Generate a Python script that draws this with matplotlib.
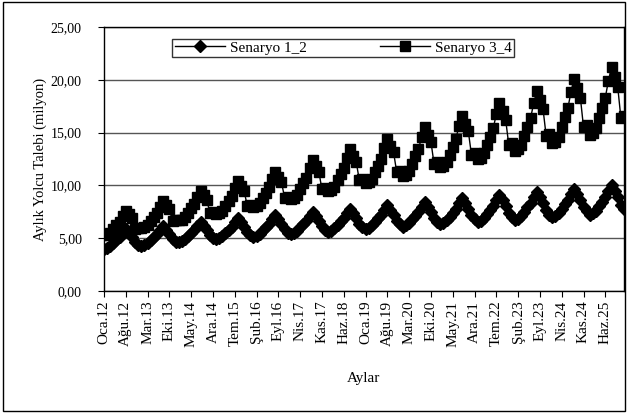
import matplotlib
matplotlib.use('Agg')
import matplotlib.pyplot as plt
from matplotlib.patches import Rectangle
from matplotlib.ticker import FuncFormatter

plt.rcParams['font.family'] = ['Liberation Serif', 'DejaVu Serif']

# Aylar: Oca.12 - Ara.25 (aylik)
aylar = ['Oca', 'Şub', 'Mar', 'Nis', 'May', 'Haz', 'Tem', 'Ağu', 'Eyl', 'Eki', 'Kas', 'Ara']
yillar = list(range(12, 26))

# Senaryo 1_2 (milyon), yil yil
senaryo_12 = [
    4.00, 4.10, 4.29, 4.57, 4.86, 5.14, 5.52, 5.90, 5.52, 5.14, 4.67, 4.38,
    4.30, 4.40, 4.59, 4.87, 5.16, 5.44, 5.82, 6.20, 5.82, 5.44, 4.97, 4.68,
    4.60, 4.70, 4.89, 5.17, 5.46, 5.74, 6.12, 6.50, 6.12, 5.74, 5.27, 4.98,
    4.90, 5.00, 5.20, 5.50, 5.80, 6.10, 6.50, 6.90, 6.50, 6.10, 5.60, 5.30,
    5.10, 5.21, 5.42, 5.73, 6.05, 6.36, 6.78, 7.20, 6.78, 6.36, 5.84, 5.52,
    5.40, 5.51, 5.72, 6.03, 6.35, 6.66, 7.08, 7.50, 7.08, 6.66, 6.14, 5.82,
    5.60, 5.71, 5.93, 6.26, 6.59, 6.92, 7.36, 7.80, 7.36, 6.92, 6.37, 6.04,
    5.90, 6.01, 6.23, 6.56, 6.89, 7.22, 7.66, 8.10, 7.66, 7.22, 6.67, 6.34,
    6.10, 6.22, 6.44, 6.79, 7.14, 7.48, 7.94, 8.40, 7.94, 7.48, 6.90, 6.56,
    6.30, 6.42, 6.68, 7.05, 7.42, 7.80, 8.30, 8.80, 8.30, 7.80, 7.18, 6.80,
    6.50, 6.63, 6.89, 7.28, 7.67, 8.06, 8.58, 9.10, 8.58, 8.06, 7.41, 7.02,
    6.70, 6.84, 7.11, 7.51, 7.92, 8.32, 8.86, 9.40, 8.86, 8.32, 7.65, 7.24,
    7.00, 7.14, 7.41, 7.81, 8.22, 8.62, 9.16, 9.70, 9.16, 8.62, 7.95, 7.54,
    7.20, 7.34, 7.62, 8.04, 8.46, 8.88, 9.44, 10.00, 9.44, 8.88, 8.18, 7.76,
]

# Senaryo 3_4 (milyon)
senaryo_34 = [
    5.30, 5.35, 5.53, 5.88, 6.22, 6.57, 7.14, 7.60, 7.26, 6.91, 5.88, 5.94,
    6.00, 6.05, 6.25, 6.62, 7.00, 7.38, 8.00, 8.50, 8.12, 7.75, 6.62, 6.70,
    6.70, 6.76, 6.98, 7.40, 7.82, 8.24, 8.94, 9.50, 9.08, 8.66, 7.40, 7.48,
    7.30, 7.36, 7.61, 8.08, 8.54, 9.00, 9.78, 10.40, 9.94, 9.47, 8.08, 8.17,
    8.00, 8.07, 8.33, 8.82, 9.32, 9.82, 10.64, 11.30, 10.80, 10.31, 8.82, 8.92,
    8.70, 8.77, 9.07, 9.62, 10.18, 10.74, 11.66, 12.40, 11.84, 11.29, 9.62, 9.74,
    9.50, 9.58, 9.89, 10.48, 11.06, 11.64, 12.62, 13.40, 12.82, 12.23, 10.48, 10.59,
    10.20, 10.28, 10.62, 11.25, 11.88, 12.51, 13.56, 14.40, 13.77, 13.14, 11.25, 11.38,
    10.90, 10.99, 11.36, 12.05, 12.74, 13.43, 14.58, 15.50, 14.81, 14.12, 12.05, 12.19,
    11.70, 11.80, 12.19, 12.92, 13.66, 14.40, 15.62, 16.60, 15.86, 15.13, 12.92, 13.07,
    12.50, 12.61, 13.03, 13.82, 14.62, 15.42, 16.74, 17.80, 17.00, 16.21, 13.82, 13.98,
    13.30, 13.41, 13.86, 14.70, 15.54, 16.38, 17.78, 18.90, 18.06, 17.22, 14.70, 14.87,
    14.00, 14.12, 14.61, 15.52, 16.44, 17.36, 18.88, 20.10, 19.18, 18.27, 15.52, 15.71,
    14.80, 14.93, 15.44, 16.40, 17.36, 18.32, 19.92, 21.20, 20.24, 19.28, 16.40, 16.59,
]

etiketler = [f'{a}.{y}' for y in yillar for a in aylar]
x = list(range(len(senaryo_12)))

fig = plt.figure(figsize=(6.27, 4.13), dpi=100)
ax = fig.add_axes([104 / 627, 1 - 291 / 413, 520 / 627, 264 / 413])

ax.plot(x, senaryo_12, color='black', lw=1, marker='D', markersize=6, label='Senaryo 1_2')
ax.plot(x, senaryo_34, color='black', lw=1, marker='s', markersize=6.5, label='Senaryo 3_4')

ax.set_ylim(0, 25)
ax.set_xlim(0, len(x) - 1)
ax.set_yticks([0, 5, 10, 15, 20, 25])
ax.yaxis.set_major_formatter(FuncFormatter(lambda v, p: f'{v:.2f}'.replace('.', ',')))
ax.grid(axis='y', color='#555555', lw=1)
ax.set_axisbelow(True)

ticks = list(range(0, len(x), 7))
ax.set_xticks(ticks)
ax.set_xticklabels([etiketler[i] for i in ticks], rotation=90, fontsize=11)
ax.tick_params(axis='y', labelsize=10, length=4, direction='out', pad=12)
ax.tick_params(axis='x', length=4, direction='out', pad=3)

for s in ax.spines.values():
    s.set_color('black')
    s.set_linewidth(1)

ax.set_ylabel('Aylık Yolcu Talebi (milyon)', fontsize=10.5, labelpad=3)
ax.set_xlabel('Aylar', fontsize=11, labelpad=18)

leg = ax.legend(loc='upper center', bbox_to_anchor=(0.46, 0.985), ncol=2, fontsize=11,
                frameon=True, fancybox=False, edgecolor='black', handlelength=3.3,
                columnspacing=4.8, borderpad=0.15, handletextpad=0.3)
leg.get_frame().set_linewidth(1)

# dis cerceve
fig.patches.append(Rectangle((3 / 627, 2 / 413), 622 / 627, 409 / 413, transform=fig.transFigure,
                             fill=False, edgecolor='black', lw=1))

plt.savefig('out.png', dpi=100)
